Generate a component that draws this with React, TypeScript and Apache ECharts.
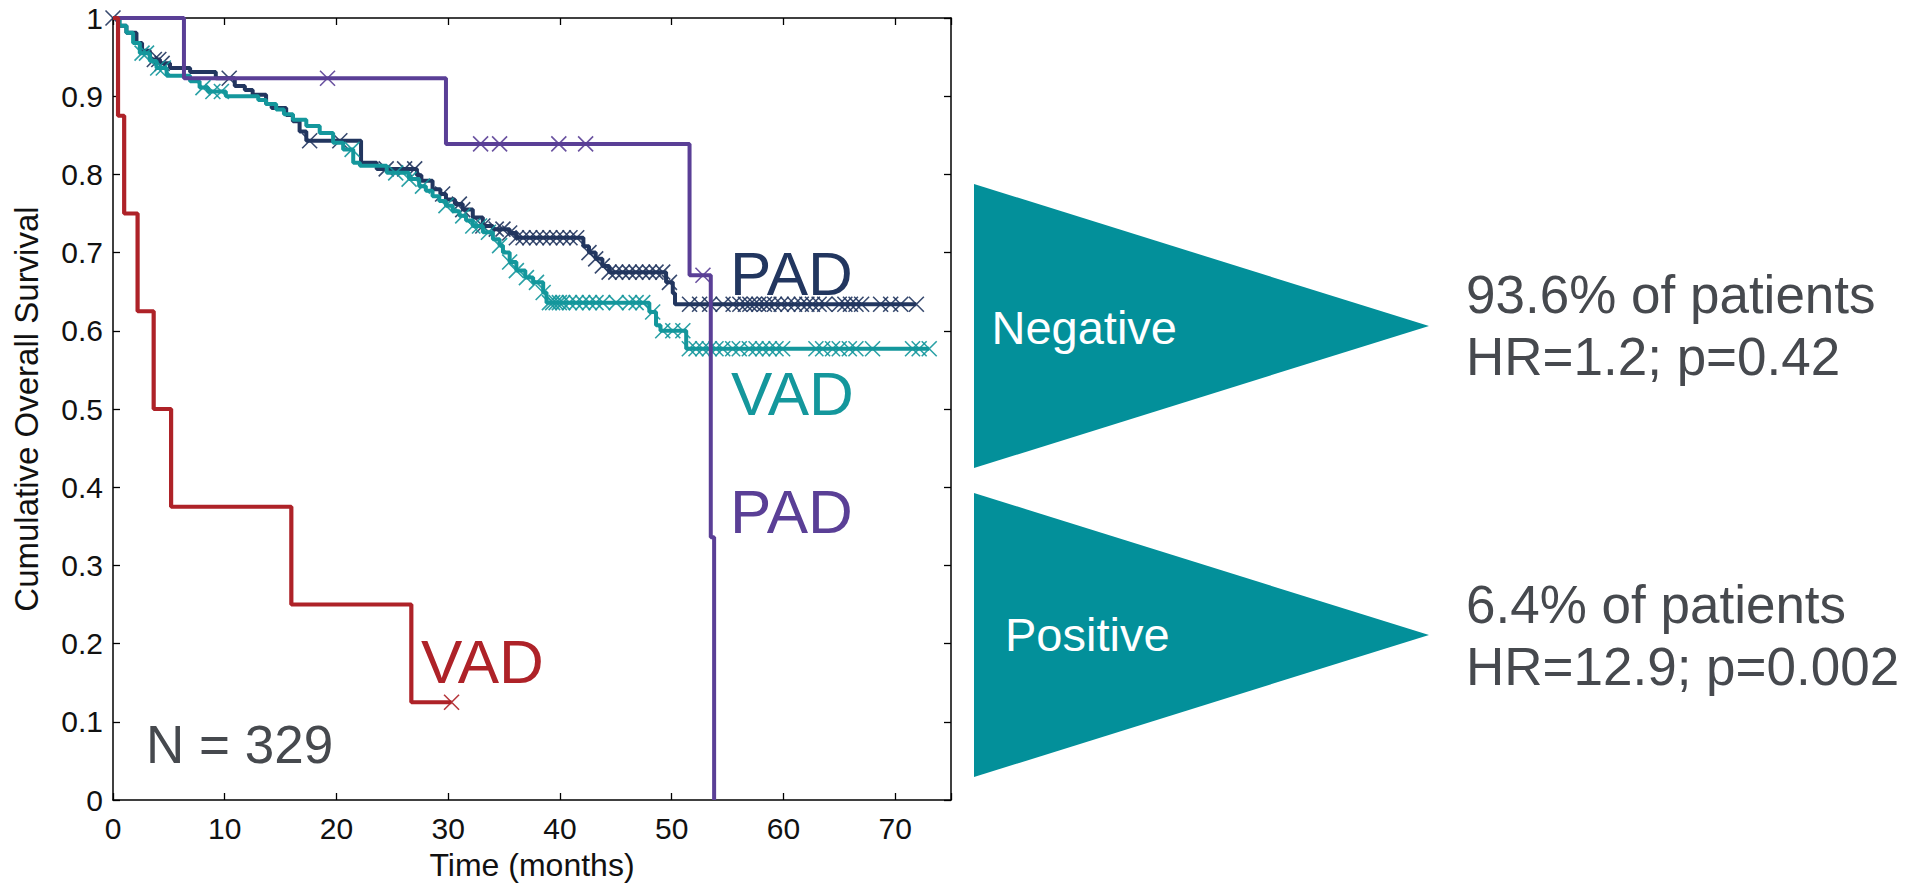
import React, { useEffect, useRef } from "react";
import * as echarts from "echarts";

const FONT = "'Liberation Sans', Arial, Helvetica, sans-serif";

// Axis ranges
const X_MIN = 0;
const X_MAX = 75;
const X_STEP = 10;
const Y_MIN = 0;
const Y_MAX = 1;
const Y_STEP = 0.1;

// Kaplan-Meier step points [time (months), survival] — PAD, negative
const padNegEvents: [number, number][] = [
  [0, 1], [0.5, 0.99], [1.2, 0.981], [2.1, 0.968], [2.6, 0.958], [3.3, 0.947],
  [4.2, 0.942], [5.1, 0.936], [6.9, 0.931], [9.2, 0.923], [10.9, 0.913],
  [11.8, 0.908], [12.5, 0.902], [13.7, 0.89], [14.2, 0.885], [15.5, 0.876],
  [16.1, 0.868], [16.7, 0.855], [17.3, 0.843], [22.2, 0.815], [23.6, 0.807],
  [27.2, 0.799], [27.6, 0.792], [28.6, 0.781], [29.3, 0.775], [29.8, 0.768],
  [30.6, 0.762], [31.3, 0.755], [32.2, 0.745], [33.1, 0.734], [34.0, 0.73],
  [35.5, 0.725], [36.1, 0.719], [42.1, 0.708], [42.6, 0.7], [43.2, 0.692],
  [43.8, 0.683], [44.4, 0.675], [49.5, 0.662], [50.1, 0.648], [50.3, 0.634],
];
const padNegCensor: number[] = [
  0, 3.7, 4.1, 4.4, 10.4, 17.6, 20.3, 24.45, 26.1, 27.0, 29.5, 31.0, 31.3, 33.1,
  34.3, 34.9, 35.5, 36.1, 36.7, 37.3, 37.9, 38.5, 39.1, 39.7, 40.3, 40.9, 41.5,
  42.6, 43.2, 43.8, 44.4, 45.0, 45.6, 46.2, 46.8, 47.4, 48.0, 48.6, 49.2, 49.8,
  51.6, 52.5, 53.4, 54.6, 55.5, 56.1, 56.6, 57.0, 57.4, 57.8, 58.3, 58.7, 59.2,
  59.8, 60.4, 61.0, 61.6, 62.1, 62.6, 63.2, 63.7, 65.0, 65.5, 66.0, 66.5, 67.0,
  68.7, 69.6, 70.5, 71.9,
];

// VAD, negative
const vadNegEvents: [number, number][] = [
  [0, 1], [0.6, 0.99], [1.2, 0.981], [1.8, 0.968], [2.4, 0.955], [3.3, 0.945],
  [3.9, 0.936], [4.8, 0.926], [6.9, 0.919], [7.75, 0.911], [8.5, 0.906],
  [10.1, 0.9], [13.0, 0.895], [13.7, 0.89], [14.6, 0.883], [15.3, 0.877],
  [16.1, 0.87], [17.3, 0.862], [18.5, 0.853], [19.7, 0.8405], [20.6, 0.832],
  [21.5, 0.815], [22.1, 0.811], [24.5, 0.802], [26.5, 0.794], [27.4, 0.785],
  [28.0, 0.779], [28.6, 0.772], [29.2, 0.766], [29.8, 0.76], [30.4, 0.753],
  [31.0, 0.747], [31.6, 0.741], [32.2, 0.734], [33.1, 0.726], [34.0, 0.717],
  [34.6, 0.709], [34.9, 0.7], [35.5, 0.688], [36.1, 0.677], [36.9, 0.668],
  [37.6, 0.662], [38.5, 0.649], [38.8, 0.636], [48.0, 0.624], [48.6, 0.607],
  [49.0, 0.6], [51.3, 0.577],
];
const vadNegCensor: number[] = [
  2.6, 3.0, 4.0, 4.5, 8.05, 8.94, 9.7, 21.4, 25.3, 26.5, 27.7, 29.8, 31.3, 32.2,
  32.8, 33.6, 34.6, 35.5, 36.1, 37.0, 37.9, 38.5, 39.06, 39.35, 39.66, 39.95,
  40.25, 40.85, 41.45, 42.04, 42.64, 43.23, 43.83, 45.03, 46.22, 46.82, 47.41,
  48.3, 49.2, 50.1, 51.0, 51.58, 52.18, 52.78, 53.37, 53.97, 54.57, 55.46,
  56.05, 56.95, 57.55, 58.14, 58.74, 59.34, 59.93, 62.91, 63.51, 64.4, 65.0,
  65.9, 66.49, 67.98, 71.56, 72.15, 73.05,
];

// PAD, positive
const padPosEvents: [number, number][] = [
  [0, 1], [6.35, 0.923], [29.8, 0.839], [51.6, 0.671], [53.5, 0.336], [53.8, 0],
];
const padPosCensor: number[] = [19.2, 32.9, 34.6, 39.9, 42.3, 52.8];

// VAD, positive
const vadPosEvents: [number, number][] = [
  [0, 1], [0.45, 0.875], [1.0, 0.75], [2.2, 0.625], [3.64, 0.5], [5.2, 0.375],
  [15.96, 0.25], [26.7, 0.125],
];
const vadPosCensor: number[] = [30.3];

const COLORS = {
  padNeg: "#22365F",
  vadNeg: "#14979C",
  padPos: "#5A3F96",
  vadPos: "#AE2228",
  tri: "#03909A",
  gray: "#46494E",
};

function survAt(events: [number, number][], t: number): number {
  let v = events[0][1];
  for (const [et, ev] of events) {
    if (et <= t) v = ev;
    else break;
  }
  return v;
}

function stepLine(events: [number, number][], censor: number[]): [number, number][] {
  const pts = events.map((p) => [p[0], p[1]] as [number, number]);
  const lastT = Math.max(...censor, events[events.length - 1][0]);
  const last = events[events.length - 1];
  if (lastT > last[0]) pts.push([lastT, last[1]]);
  return pts;
}

const CROSS = "path://M0,0L10,10M10,0L0,10";

function kmSeries(name: string, events: [number, number][], censor: number[], color: string, width: number, z: number) {
  return [
    {
      name,
      type: "line",
      step: "end",
      data: stepLine(events, censor),
      showSymbol: false,
      symbol: "none",
      lineStyle: { color, width },
      z,
      silent: true,
    },
    {
      name: name + " censored",
      type: "scatter",
      data: censor.map((t) => [t, survAt(events, t)]),
      symbol: CROSS,
      symbolSize: 15,
      itemStyle: { color: "transparent", borderColor: color, borderWidth: 1.6, opacity: 0.9 },
      z,
      silent: true,
    },
  ];
}

export default function App() {
  const ref = useRef<HTMLDivElement>(null);

  useEffect(() => {
    if (!ref.current) return;
    const chart = echarts.init(ref.current, null, { renderer: "svg" });

    const axisLine = { show: true, onZero: false, lineStyle: { color: "#000", width: 1.5 } };
    const axisTick = { show: true, inside: true, length: 7, lineStyle: { color: "#000", width: 1.3 } };

    const option: any = {
      animation: false,
      backgroundColor: "#fff",
      grid: { left: 113, right: 966, top: 18, bottom: 84, containLabel: false },
      xAxis: [
        {
          type: "value",
          min: X_MIN,
          max: X_MAX,
          interval: X_STEP,
          position: "bottom",
          axisLine,
          axisTick,
          splitLine: { show: false },
          axisLabel: {
            margin: 13,
            fontSize: 30,
            color: "#111",
            fontFamily: FONT,
            formatter: (v: number) => (Math.abs(v % X_STEP) < 1e-9 ? String(v) : ""),
          },
          name: "Time (months)",
          nameLocation: "middle",
          nameGap: 49,
          nameTextStyle: { fontSize: 32, color: "#111", fontFamily: FONT },
        },
        {
          type: "value",
          min: X_MIN,
          max: X_MAX,
          interval: X_STEP,
          position: "top",
          axisLine,
          axisTick,
          splitLine: { show: false },
          axisLabel: { show: false },
        },
      ],
      yAxis: [
        {
          type: "value",
          min: Y_MIN,
          max: Y_MAX,
          interval: Y_STEP,
          position: "left",
          axisLine,
          axisTick,
          splitLine: { show: false },
          axisLabel: {
            margin: 10,
            fontSize: 30,
            color: "#111",
            fontFamily: FONT,
            formatter: (v: number) => String(Math.round(v * 10) / 10),
          },
          name: "Cumulative Overall Survival",
          nameLocation: "middle",
          nameGap: 70,
          nameTextStyle: { fontSize: 33, color: "#111", fontFamily: FONT },
        },
        {
          type: "value",
          min: Y_MIN,
          max: Y_MAX,
          interval: Y_STEP,
          position: "right",
          axisLine,
          axisTick,
          splitLine: { show: false },
          axisLabel: { show: false },
        },
      ],
      series: [
        ...kmSeries("PAD (negative)", padNegEvents, padNegCensor, COLORS.padNeg, 4, 2),
        ...kmSeries("VAD (negative)", vadNegEvents, vadNegCensor, COLORS.vadNeg, 4, 3),
        ...kmSeries("PAD (positive)", padPosEvents, padPosCensor, COLORS.padPos, 4, 4),
        ...kmSeries("VAD (positive)", vadPosEvents, vadPosCensor, COLORS.vadPos, 4.2, 5),
      ],
      graphic: [
        { type: "text", x: 730, y: 273.5, style: { text: "PAD", fill: COLORS.padNeg, font: `62px ${FONT}`, verticalAlign: "middle", align: "left" }, z: 10 },
        { type: "text", x: 731, y: 393.5, style: { text: "VAD", fill: COLORS.vadNeg, font: `62px ${FONT}`, verticalAlign: "middle", align: "left" }, z: 10 },
        { type: "text", x: 730, y: 511.5, style: { text: "PAD", fill: COLORS.padPos, font: `62px ${FONT}`, verticalAlign: "middle", align: "left" }, z: 10 },
        { type: "text", x: 421, y: 661.5, style: { text: "VAD", fill: COLORS.vadPos, font: `62px ${FONT}`, verticalAlign: "middle", align: "left" }, z: 10 },
        { type: "text", x: 146, y: 744.6, style: { text: "N = 329", fill: COLORS.gray, font: `53px ${FONT}`, verticalAlign: "middle", align: "left" }, z: 10 },
        { type: "polygon", shape: { points: [[974, 184], [974, 468], [1429, 326]] }, style: { fill: COLORS.tri }, z: 5 },
        { type: "polygon", shape: { points: [[974, 493], [974, 777], [1429, 635]] }, style: { fill: COLORS.tri }, z: 5 },
        { type: "text", x: 991.5, y: 327, style: { text: "Negative", fill: "#fff", font: `47px ${FONT}`, verticalAlign: "middle", align: "left" }, z: 10 },
        { type: "text", x: 1005, y: 634.5, style: { text: "Positive", fill: "#fff", font: `47px ${FONT}`, verticalAlign: "middle", align: "left" }, z: 10 },
        { type: "text", x: 1466, y: 294.6, style: { text: "93.6% of patients", fill: COLORS.gray, font: `53px ${FONT}`, verticalAlign: "middle", align: "left" }, z: 10 },
        { type: "text", x: 1466, y: 356.6, style: { text: "HR=1.2; p=0.42", fill: COLORS.gray, font: `53px ${FONT}`, verticalAlign: "middle", align: "left" }, z: 10 },
        { type: "text", x: 1466, y: 604.9, style: { text: "6.4% of patients", fill: COLORS.gray, font: `53px ${FONT}`, verticalAlign: "middle", align: "left" }, z: 10 },
        { type: "text", x: 1466, y: 666.6, style: { text: "HR=12.9; p=0.002", fill: COLORS.gray, font: `53px ${FONT}`, verticalAlign: "middle", align: "left" }, z: 10 },
      ],
    };

    chart.setOption(option);
    return () => chart.dispose();
  }, []);

  return (
    <div
      ref={ref}
      style={{ position: "absolute", left: 0, top: 0, width: 1917, height: 886, background: "#fff" }}
    />
  );
}
